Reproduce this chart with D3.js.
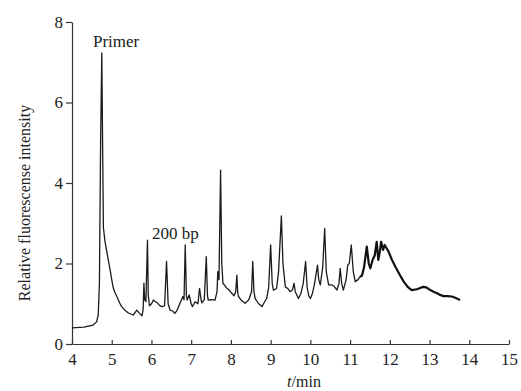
<!DOCTYPE html>
<html>
<head>
<meta charset="utf-8">
<script src="https://cdn.jsdelivr.net/npm/d3@7"></script>
<style>
  body { margin: 0; background: #fff; }
  svg text { font-family: "Liberation Serif", "DejaVu Serif", serif; fill: #222; }
</style>
</head>
<body>
<div id="chart"></div>
<script>
// retention time (min) and relative fluorescence intensity
const times = [4.0, 4.3, 4.53, 4.62, 4.66, 4.69, 4.72, 4.75, 4.77, 4.79, 4.83, 4.87, 4.92, 4.96, 5.0, 5.04, 5.08, 5.13, 5.2, 5.25,
  5.33, 5.42, 5.54, 5.6, 5.63, 5.7, 5.76, 5.79, 5.81, 5.83, 5.86, 5.9, 5.92, 5.95, 6.0, 6.05, 6.1, 6.15, 6.2, 6.26,
  6.33, 6.38, 6.42, 6.47, 6.53, 6.59, 6.65, 6.72, 6.79, 6.82, 6.85, 6.88, 6.9, 6.95, 7.0, 7.03, 7.1, 7.17, 7.21, 7.25,
  7.27, 7.33, 7.38, 7.41, 7.43, 7.5, 7.6, 7.65, 7.67, 7.7, 7.74, 7.77, 7.8, 7.85, 7.9, 7.95, 8.02, 8.08, 8.12, 8.15,
  8.17, 8.19, 8.25, 8.31, 8.36, 8.45, 8.52, 8.55, 8.58, 8.61, 8.7, 8.78, 8.85, 8.9, 8.95, 9.0, 9.04, 9.07, 9.15, 9.2,
  9.27, 9.31, 9.37, 9.43, 9.49, 9.55, 9.59, 9.62, 9.7, 9.76, 9.82, 9.88, 9.92, 9.96, 10.0, 10.05, 10.1, 10.18, 10.21, 10.25,
  10.31, 10.36, 10.4, 10.46, 10.54, 10.6, 10.67, 10.72, 10.75, 10.79, 10.83, 10.9, 10.94, 10.98, 11.03, 11.08, 11.13, 11.2, 11.25, 11.3,
  11.35, 11.42, 11.47, 11.51, 11.57, 11.62, 11.67, 11.71, 11.75, 11.78, 11.83, 11.87, 11.92, 11.97, 12.05, 12.14, 12.25, 12.35, 12.45, 12.55,
  12.68, 12.78, 12.85, 12.93, 13.02, 13.1, 13.19, 13.27, 13.35, 13.45, 13.56, 13.65, 13.77];
const intensity = [0.40, 0.42, 0.47, 0.55, 0.72, 1.5, 5.0, 7.23, 5.0, 2.9, 2.55, 2.33, 2.05, 1.84, 1.6, 1.39, 1.28, 1.18, 1.02, 0.93,
  0.84, 0.77, 0.72, 0.80, 0.84, 0.76, 0.70, 0.85, 1.51, 1.1, 1.05, 2.58, 1.2, 0.95, 1.0, 1.09, 1.05, 1.02, 0.96, 0.93,
  0.95, 2.05, 1.0, 0.84, 0.82, 0.76, 0.85, 1.02, 1.18, 1.1, 2.46, 1.2, 1.09, 1.22, 1.0, 0.93, 1.05, 1.0, 1.38, 1.1,
  1.02, 1.1, 2.17, 1.2, 1.09, 1.1, 1.09, 1.3, 1.8, 1.6, 4.32, 2.0, 1.51, 1.45, 1.38, 1.35, 1.26, 1.2, 1.3, 1.71,
  1.3, 1.18, 1.1, 1.05, 1.01, 1.1, 1.3, 2.05, 1.3, 1.13, 1.0, 0.93, 1.05, 1.13, 1.4, 2.46, 1.5, 1.34, 1.38, 1.8,
  3.18, 2.0, 1.42, 1.38, 1.30, 1.35, 1.51, 1.3, 1.13, 1.25, 1.5, 2.05, 1.4, 1.2, 1.13, 1.25, 1.47, 1.96, 1.6, 1.47,
  1.9, 2.87, 1.8, 1.47, 1.47, 1.43, 1.34, 1.5, 1.88, 1.5, 1.34, 1.6, 1.96, 2.0, 2.46, 1.8, 1.55, 1.6, 1.67, 1.7,
  1.9, 2.42, 2.0, 1.88, 2.1, 2.2, 2.54, 2.09, 2.3, 2.54, 2.34, 2.46, 2.38, 2.29, 2.1, 1.92, 1.72, 1.55, 1.42, 1.34,
  1.36, 1.40, 1.42, 1.40, 1.34, 1.30, 1.26, 1.22, 1.19, 1.19, 1.18, 1.15, 1.09];

const xTicks = [4, 5, 6, 7, 8, 9, 10, 11, 12, 13, 14, 15];
const yTicks = [0, 2, 4, 6, 8];

const width = 521, height = 391;

const svg = d3.select("#chart")
    .append("svg")
    .attr("width", width)
    .attr("height", height);

const x = d3.scaleLinear().domain([4, 15]).range([72, 509]);
const y = d3.scaleLinear().domain([0, 8]).range([344, 22]);

// axes
const xAxis = svg.append("g")
    .attr("transform", "translate(0,344)")
    .call(d3.axisBottom(x).tickValues(xTicks).tickSize(-4).tickSizeOuter(0).tickPadding(9));

const yAxis = svg.append("g")
    .attr("transform", "translate(72,0)")
    .call(d3.axisLeft(y).tickValues(yTicks).tickSize(6).tickSizeOuter(0).tickPadding(3));

[xAxis, yAxis].forEach(a => {
    a.selectAll("path, line").attr("stroke", "#333").attr("stroke-width", 1.2);
    a.selectAll("text").attr("font-size", 17).attr("fill", "#222")
        .style("font-family", "'Liberation Serif', serif");
});

// trace
const pts = times.map((t, i) => ({ t: t, v: intensity[i] }));
const line = d3.line().x(d => x(d.t)).y(d => y(d.v));

svg.append("path")
    .datum(pts.filter(d => d.t <= 11.3))
    .attr("d", line)
    .attr("fill", "none")
    .attr("stroke", "#1a1a1a")
    .attr("stroke-width", 1.3)
    .attr("stroke-linejoin", "round");

svg.append("path")
    .datum(pts.filter(d => d.t >= 11.25))
    .attr("d", line)
    .attr("fill", "none")
    .attr("stroke", "#111")
    .attr("stroke-width", 2.2)
    .attr("stroke-linejoin", "round");

// annotations
svg.append("text")
    .attr("x", 93).attr("y", 47)
    .attr("font-size", 17)
    .text("Primer");

svg.append("text")
    .attr("x", 152).attr("y", 239)
    .attr("font-size", 17)
    .text("200 bp");

// axis titles
svg.append("text")
    .attr("transform", "translate(30,203) rotate(-90)")
    .attr("text-anchor", "middle")
    .attr("font-size", 16)
    .text("Relative fluorescense intensity");

const xt = svg.append("text")
    .attr("x", 304).attr("y", 387)
    .attr("text-anchor", "middle")
    .attr("font-size", 16);
xt.append("tspan").attr("font-style", "italic").text("t");
xt.append("tspan").text("/min");
</script>
</body>
</html>
